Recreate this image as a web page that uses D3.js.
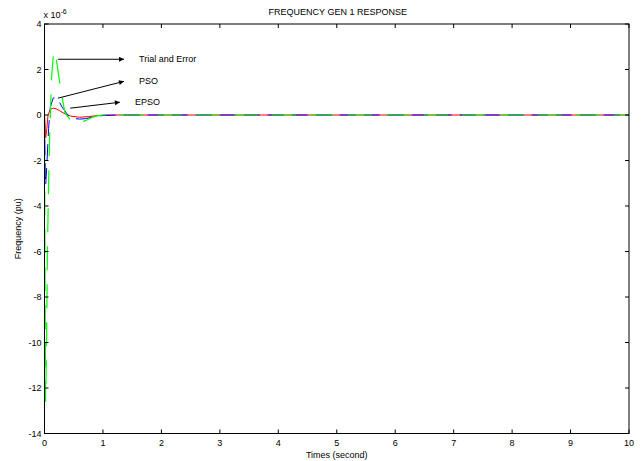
<!DOCTYPE html>
<html>
<head>
<meta charset="utf-8">
<script src="https://cdn.jsdelivr.net/npm/d3@7"></script>
<style>
  body { margin: 0; background: #fff; }
  svg { font-family: "Liberation Sans", Arial, sans-serif; }
</style>
</head>
<body>
<div id="chart"></div>
<script>
// values in units of 1e-6 pu
const xTicks = [0, 1, 2, 3, 4, 5, 6, 7, 8, 9, 10];
const yTicks = [4, 2, 0, -2, -4, -6, -8, -10, -12, -14];

const epsoT = [0, 0.02, 0.04, 0.06, 0.1, 0.15, 0.2, 0.25, 0.35, 0.45, 0.6, 0.75, 0.9, 1.05, 1.3, 10];
const epsoV = [0, -1.0, -0.6, 0, 0.25, 0.3, 0.27, 0.2, 0.05, -0.05, -0.1, -0.07, -0.03, 0, 0, 0];

const psoT = [0, 0.01, 0.02, 0.04, 0.07, 0.1, 0.15, 0.22, 0.3, 0.4, 0.5, 0.6, 0.7, 0.85, 1.0, 1.3, 10];
const psoV = [0, -2.0, -3.1, -2.2, -0.6, 0.35, 0.75, 0.75, 0.35, 0, -0.15, -0.18, -0.16, -0.08, -0.02, 0, 0];

const trialT = [0, 0.01, 0.02, 0.035, 0.05, 0.07, 0.09, 0.12, 0.15, 0.17, 0.2, 0.25, 0.3, 0.35, 0.45, 0.6, 0.7, 0.8, 0.9, 1.0, 1.2, 10];
const trialV = [0, -8, -12.6, -10, -6, -3, -0.8, 1.6, 2.6, 2.8, 2.5, 1.6, 0.8, 0.1, -0.25, -0.32, -0.25, -0.12, -0.04, 0, 0, 0];

const arrows = [
  { label: "Trial and Error", from: [0.23, 2.45], to: [1.36, 2.45] },
  { label: "PSO", from: [0.23, 0.74], to: [1.36, 1.48] },
  { label: "EPSO", from: [0.44, 0.3], to: [1.29, 0.56] }
];

const W = 641, H = 461;
const margin = { top: 24, right: 12, bottom: 28, left: 44.5 };

const svg = d3.select("#chart").append("svg")
  .attr("width", W).attr("height", H);

const x = d3.scaleLinear().domain([0, 10]).range([margin.left, W - margin.right]);
const y = d3.scaleLinear().domain([-14, 4]).range([H - margin.bottom + 0.5, margin.top]);

// lines
const line = d3.line().x(d => x(d[0])).y(d => y(d[1]));
const zip = (t, v) => t.map((d, i) => [d, v[i]]);

svg.append("path").datum(zip(epsoT, epsoV))
  .attr("fill", "none").attr("stroke", "#ff0000").attr("stroke-width", 1)
  .attr("d", line);
svg.append("path").datum(zip(psoT, psoV))
  .attr("fill", "none").attr("stroke", "#0000ff").attr("stroke-width", 1)
  .attr("stroke-dasharray", "16,8")
  .attr("d", line);
svg.append("path").datum(zip(trialT, trialV))
  .attr("fill", "none").attr("stroke", "#00ff00").attr("stroke-width", 1.2)
  .attr("stroke-dasharray", "24,14")
  .attr("d", line);

// axes box
const gx = svg.append("g");
svg.append("rect")
  .attr("x", x(0)).attr("y", y(4))
  .attr("width", x(10) - x(0)).attr("height", y(-14) - y(4))
  .attr("fill", "none").attr("stroke", "#000").attr("stroke-width", 1);

const tickLen = 4;
gx.selectAll("line.xb").data(xTicks).enter().append("line")
  .attr("x1", d => x(d)).attr("x2", d => x(d))
  .attr("y1", y(-14)).attr("y2", y(-14) - tickLen).attr("stroke", "#000");
gx.selectAll("line.xt").data(xTicks).enter().append("line")
  .attr("x1", d => x(d)).attr("x2", d => x(d))
  .attr("y1", y(4)).attr("y2", y(4) + tickLen).attr("stroke", "#000");
gx.selectAll("line.yl").data(yTicks).enter().append("line")
  .attr("x1", x(0)).attr("x2", x(0) + tickLen)
  .attr("y1", d => y(d)).attr("y2", d => y(d)).attr("stroke", "#000");
gx.selectAll("line.yr").data(yTicks).enter().append("line")
  .attr("x1", x(10)).attr("x2", x(10) - tickLen)
  .attr("y1", d => y(d)).attr("y2", d => y(d)).attr("stroke", "#000");

gx.selectAll("text.xl").data(xTicks).enter().append("text")
  .attr("x", d => x(d)).attr("y", y(-14) + 12)
  .attr("text-anchor", "middle").style("font-size", "9px")
  .text(d => d);
gx.selectAll("text.yl").data(yTicks).enter().append("text")
  .attr("x", x(0) - 3).attr("y", d => y(d) + 3)
  .attr("text-anchor", "end").style("font-size", "9px")
  .text(d => d);

// exponent
const ex = svg.append("text").attr("x", x(0) - 1).attr("y", 18).style("font-size", "9px");
ex.append("tspan").text("x 10");
ex.append("tspan").attr("dy", -4).style("font-size", "7px").text("-6");

// titles
svg.append("text").attr("x", (x(0) + x(10)) / 2 + 1).attr("y", 15)
  .attr("text-anchor", "middle").style("font-size", "9px")
  .text("FREQUENCY GEN 1 RESPONSE");
svg.append("text").attr("x", (x(0) + x(10)) / 2).attr("y", 458)
  .attr("text-anchor", "middle").style("font-size", "9px")
  .text("Times (second)");
svg.append("text")
  .attr("transform", `translate(21, ${(y(4) + y(-14)) / 2}) rotate(-90)`)
  .attr("text-anchor", "middle").style("font-size", "9px")
  .text("Frequency (pu)");

// annotation arrows
svg.append("defs").append("marker")
  .attr("id", "ah").attr("viewBox", "0 0 10 10")
  .attr("refX", 10).attr("refY", 5)
  .attr("markerWidth", 9).attr("markerHeight", 5)
  .attr("markerUnits", "userSpaceOnUse")
  .attr("orient", "auto")
  .append("path").attr("d", "M0,0 L10,5 L0,10 Z").attr("fill", "#000");

arrows.forEach(a => {
  svg.append("line")
    .attr("x1", x(a.from[0])).attr("y1", y(a.from[1]))
    .attr("x2", x(a.to[0])).attr("y2", y(a.to[1]))
    .attr("stroke", "#000").attr("stroke-width", 1)
    .attr("marker-end", "url(#ah)");
  svg.append("text")
    .attr("x", x(a.to[0]) + 15).attr("y", y(a.to[1]) + 3)
    .style("font-size", "9px")
    .text(a.label);
});
</script>
</body>
</html>
